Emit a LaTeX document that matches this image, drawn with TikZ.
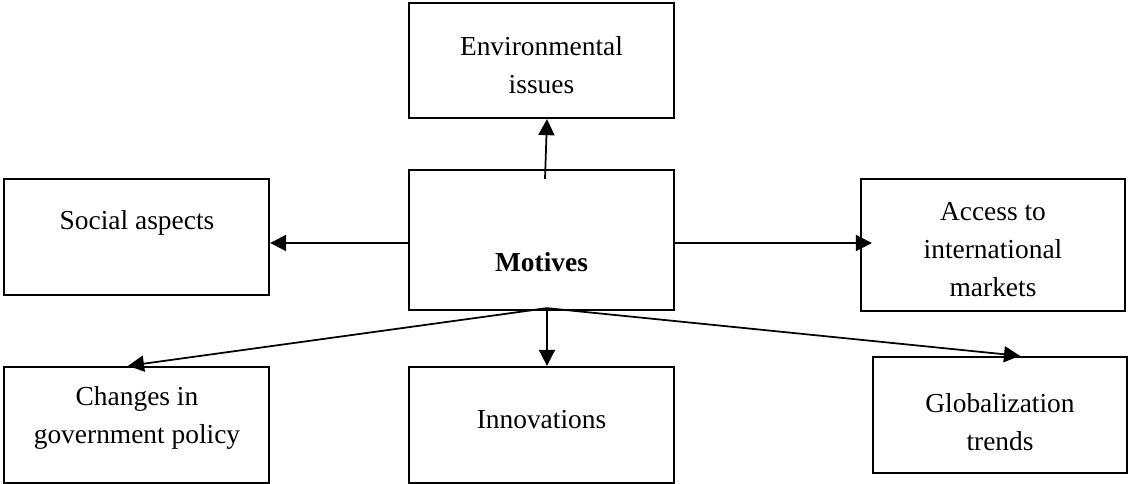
\documentclass[tikz,border=0pt]{standalone}
\usepackage{fontspec}
\setmainfont{Liberation Serif}
\usepackage{tikz}
\usetikzlibrary{arrows.meta, positioning}
\tikzstyle{box} = [rectangle, draw, line width=1.6pt, minimum width=6.625cm, minimum height=2.9cm, inner sep=0pt]
\tikzstyle{txt} = [align=center, inner sep=0pt, font=\fontsize{19.5}{27}\selectfont]
\tikzstyle{arrow} = [line width=1.25pt, -{Triangle[length=0.4cm, width=0.4cm]}]

\begin{document}
\begin{tikzpicture}[x=0.025cm, y=-0.025cm]
    \useasboundingbox (0,0) rectangle (1138,484);

    % boxes
    \node (env) [box, minimum height=2.875cm] at (541.5,60.5) {};
    \node (mot) [box, minimum height=3.5cm] at (541.5,240) {};
    \node (soc) [box] at (136.5,237) {};
    \node (acc) [box, minimum width=6.6cm, minimum height=3.3cm] at (993,245) {};
    \node (chg) [box] at (136.5,425) {};
    \node (inn) [box] at (541.5,425) {};
    \node (glb) [box, minimum width=6.35cm] at (1000,415) {};

    % texts
    \node (envt) [txt] at (541.5,65) {Environmental\\issues};
    \node (mott) [txt, font=\fontsize{19.5}{27}\selectfont\bfseries] at (541.5,262) {Motives};
    \node (soct) [txt] at (137,223) {Social aspects};
    \node (acct) [txt] at (993,250) {Access to\\international\\markets};
    \node (chgt) [txt] at (137,418) {Changes in\\government policy};
    \node (innt) [txt] at (541.5,420) {Innovations};
    \node (glbt) [txt] at (1000,422) {Globalization\\trends};

    % arrows
    \coordinate (fan) at ([shift={(5.5,-3)}]mot.south);
    \draw[arrow] ([shift={(3.5,10)}]mot.north) -- ([shift={(5.5,0)}]env.south);
    \draw[arrow] ([yshift=-0.075cm]mot.west) -- ([yshift=-0.15cm]soc.east);
    \draw[arrow] ([yshift=-0.075cm]mot.east) -- ([shift={(12,-2)}]acc.west);
    \draw[arrow] (fan) -- ([shift={(-8.5,0)}]chg.north);
    \draw[arrow] (fan) -- ([shift={(5.5,0)}]inn.north);
    \draw[arrow] (fan) -- ([shift={(20,0)}]glb.north);
\end{tikzpicture}
\end{document}
